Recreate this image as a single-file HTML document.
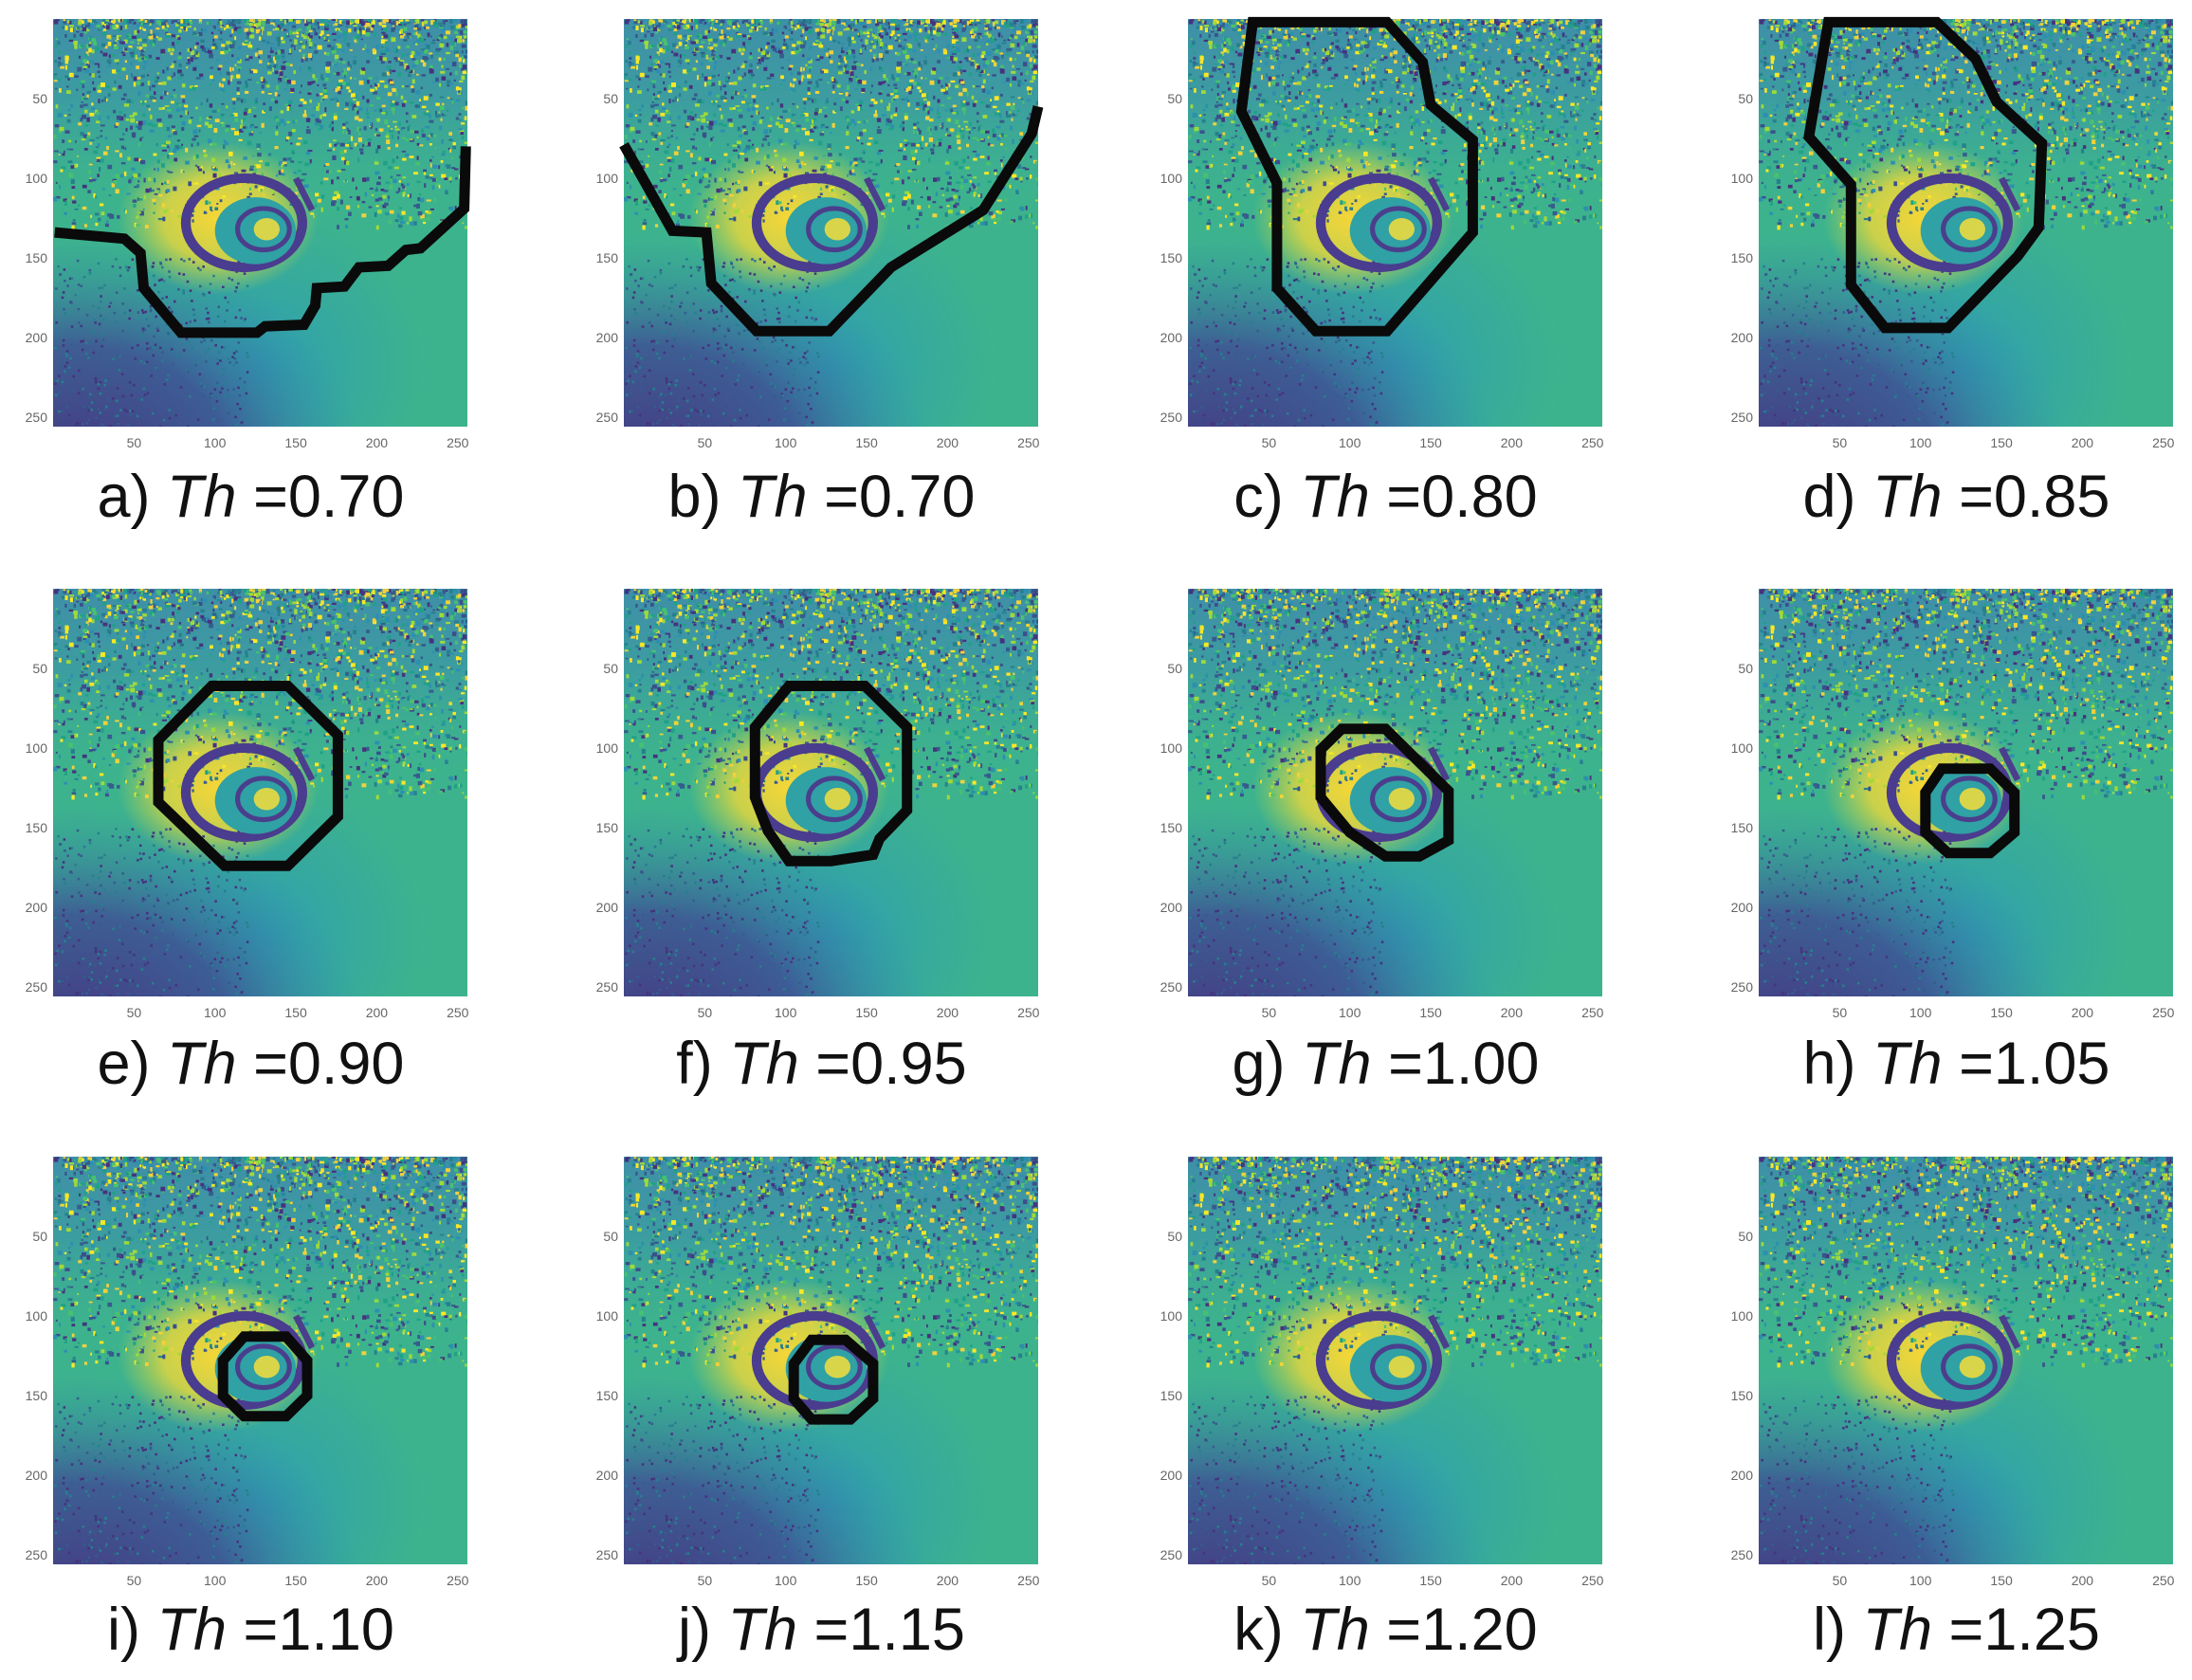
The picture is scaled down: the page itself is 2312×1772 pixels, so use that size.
<!DOCTYPE html>
<html><head><meta charset="utf-8"><style>
html,body{margin:0;padding:0;background:#fff}
svg{display:block}
</style></head><body>
<svg id="fig" width="2312" height="1772" viewBox="0 0 2312 1772" xmlns="http://www.w3.org/2000/svg">
<defs>
<radialGradient id="gPurple" cx="0.25" cy="0.85" r="0.6"><stop offset="0" stop-color="#46317f"/><stop offset="0.55" stop-color="#3e4f94" stop-opacity="0.85"/><stop offset="1" stop-color="#2e8fb0" stop-opacity="0"/></radialGradient>
<radialGradient id="gBlue" cx="0.5" cy="0.85" r="0.4"><stop offset="0" stop-color="#2c9ab8" stop-opacity="0.8"/><stop offset="1" stop-color="#2c9ab8" stop-opacity="0"/></radialGradient>
<radialGradient id="gYellow" cx="0.5" cy="0.5" r="0.5"><stop offset="0" stop-color="#f6d637"/><stop offset="0.55" stop-color="#ecd83a" stop-opacity="0.8"/><stop offset="1" stop-color="#c9d844" stop-opacity="0"/></radialGradient>
<linearGradient id="gTop" x1="0" y1="0" x2="0" y2="1"><stop offset="0" stop-color="#3f8fa8"/><stop offset="0.2" stop-color="#3c9da0"/><stop offset="0.45" stop-color="#3cb08f" stop-opacity="0"/></linearGradient>
<clipPath id="clipPlot"><rect x="0" y="0" width="256" height="256"/></clipPath>
<g id="bg" clip-path="url(#clipPlot)">
<rect x="0" y="0" width="256" height="256" fill="#3db38d"/>
<rect x="0" y="0" width="256" height="256" fill="url(#gTop)"/>
<rect x="0" y="0" width="256" height="256" fill="url(#gBlue)"/>
<rect x="-60" y="70" width="300" height="260" fill="url(#gPurple)"/>
<ellipse cx="102" cy="125" rx="62" ry="48" fill="url(#gYellow)"/>
<g id="speckle"></g>
<ellipse cx="118" cy="128" rx="36" ry="28" fill="none" stroke="#4a3c8e" stroke-width="6"/>
<ellipse cx="125" cy="133" rx="25" ry="21" fill="#30a1a4"/>
<ellipse cx="130" cy="132" rx="16" ry="13" fill="none" stroke="#4b3e8c" stroke-width="3"/>
<ellipse cx="132" cy="132" rx="8" ry="7" fill="#d9d54a"/>
<path d="M150 100 L160 120" stroke="#4b3e8c" stroke-width="4"/>
</g>
</defs>
<g id="panels"></g>
</svg>
<script>
const labels=["a","b","c","d","e","f","g","h","i","j","k","l"];
const thValues=["0.70","0.70","0.80","0.85","0.90","0.95","1.00","1.05","1.10","1.15","1.20","1.25"];
const tickValues=[50,100,150,200,250];
const contourA=[[1,134],[44,138],[54,147],[56,169],[79,197],[126,197],[131,193],[155,192],[162,180],[163,169],[180,168],[189,156],[207,155],[218,145],[227,144],[254,119],[255,80]];
const contourB=[[0,79],[30,133],[51,134],[54,166],[82,196],[127,196],[165,156],[222,120],[252,72],[256,55]];
const contourC=[[40,2],[33,58],[55,103],[55,169],[79,196],[123,196],[176,134],[176,76],[150,54],[145,27],[123,2]];
const contourD=[[43,2],[31,74],[57,104],[57,167],[78,194],[117,194],[160,149],[173,131],[175,78],[147,52],[134,25],[110,2]];
const contourE=[[98,61],[145,61],[176,92],[176,143],[145,174],[106,174],[65,134],[65,95]];
const contourF=[[102,61],[149,61],[175,87],[175,139],[158,157],[154,167],[128,171],[102,171],[89,152],[81,131],[81,87]];
const contourG=[[95,88],[122,88],[139,105],[161,127],[161,158],[143,168],[122,168],[100,153],[82,131],[82,101]];
const contourH=[[113,113],[143,113],[158,128],[158,153],[143,166],[117,166],[103,153],[103,128]];
const contourI=[[118,113],[144,113],[157,128],[157,150],[144,163],[118,163],[105,150],[105,128]];
const contourJ=[[116,115],[137,115],[154,130],[154,152],[140,165],[116,165],[105,152],[105,130]];
const contours=[contourA,contourB,contourC,contourD,contourE,contourF,contourG,contourH,contourI,contourJ,null,null];
const closed=[false,false,true,true,true,true,true,true,true,true,false,false];

const NS="http://www.w3.org/2000/svg";
let seed=7;function rnd(){seed=(seed*16807)%2147483647;return seed/2147483647;}
const pal=["#46337e","#365c8d","#277f8e","#1fa187","#4ac16d","#a0da39","#fde725","#f2d13a","#3b4f8c","#2d8fb0"];
const sp=document.getElementById("speckle");
for(let i=0;i<2200;i++){
  const y=Math.pow(rnd(),1.8)*130, x=rnd()*256;
  const r=document.createElementNS(NS,"rect");
  r.setAttribute("x",x.toFixed(1));r.setAttribute("y",y.toFixed(1));
  r.setAttribute("width",(1+rnd()*2).toFixed(1));r.setAttribute("height",(1+rnd()*2).toFixed(1));
  r.setAttribute("fill",pal[Math.floor(rnd()*pal.length)]);
  sp.appendChild(r);
}
for(let i=0;i<400;i++){
  const x=rnd()*120, y=150+rnd()*106;
  const r=document.createElementNS(NS,"rect");
  r.setAttribute("x",x.toFixed(1));r.setAttribute("y",y.toFixed(1));
  r.setAttribute("width","1.5");r.setAttribute("height","1.5");
  r.setAttribute("fill",pal[Math.floor(rnd()*3)]);
  sp.appendChild(r);
}
const colLeft=[56,658,1253,1855];
const rowTop=[20,621,1220];
const W=437,H=430;
const labelBase=[545,1143,1740];
const panels=document.getElementById("panels");
labels.forEach((lab,i)=>{
  const c=i%4,r=Math.floor(i/4);
  const x0=colLeft[c],y0=rowTop[r];
  const sx=v=>x0+v/256*W, sy=v=>y0+v/256*H;
  const g=document.createElementNS(NS,"g");
  
  
  const u=document.createElementNS(NS,"use");
  u.setAttribute("href","#bg");
  u.setAttribute("transform",`translate(${x0},${y0}) scale(${W/256},${H/256})`);
  
  
  g.appendChild(u);
  tickValues.forEach(t=>{
    const ty=document.createElementNS(NS,"text");
    ty.setAttribute("x",x0-6);ty.setAttribute("y",sy(t)+5);
    ty.setAttribute("text-anchor","end");ty.setAttribute("font-size","14");ty.setAttribute("fill","#666");
    ty.setAttribute("font-family","Liberation Sans, sans-serif");
    ty.textContent=t;
    
    
    g.appendChild(ty);
    const tx=document.createElementNS(NS,"text");
    tx.setAttribute("x",sx(t));tx.setAttribute("y",y0+H+22);
    tx.setAttribute("text-anchor","middle");tx.setAttribute("font-size","14");tx.setAttribute("fill","#666");
    tx.setAttribute("font-family","Liberation Sans, sans-serif");
    tx.textContent=t;
    
    
    g.appendChild(tx);
  });
  const ct=contours[i];
  if(ct){
    const p=document.createElementNS(NS,closed[i]?"polygon":"polyline");
    p.setAttribute("points",ct.map(q=>sx(q[0]).toFixed(1)+","+sy(q[1]).toFixed(1)).join(" "));
    p.setAttribute("fill","none");p.setAttribute("stroke","#0a0a0a");p.setAttribute("stroke-width","11");
    p.setAttribute("stroke-linejoin","miter");
    
    
    g.appendChild(p);
  }
  const t=document.createElementNS(NS,"text");
  t.setAttribute("x",x0+W/2-10);t.setAttribute("y",labelBase[r]);
  t.setAttribute("text-anchor","middle");t.setAttribute("font-size","63");t.setAttribute("fill","#111");
  t.setAttribute("font-family","Liberation Sans, sans-serif");
  t.innerHTML=lab+') <tspan font-style="italic">Th</tspan> =' + thValues[i];
  
  
  g.appendChild(t);
  panels.appendChild(g);
});
</script>
</body></html>
